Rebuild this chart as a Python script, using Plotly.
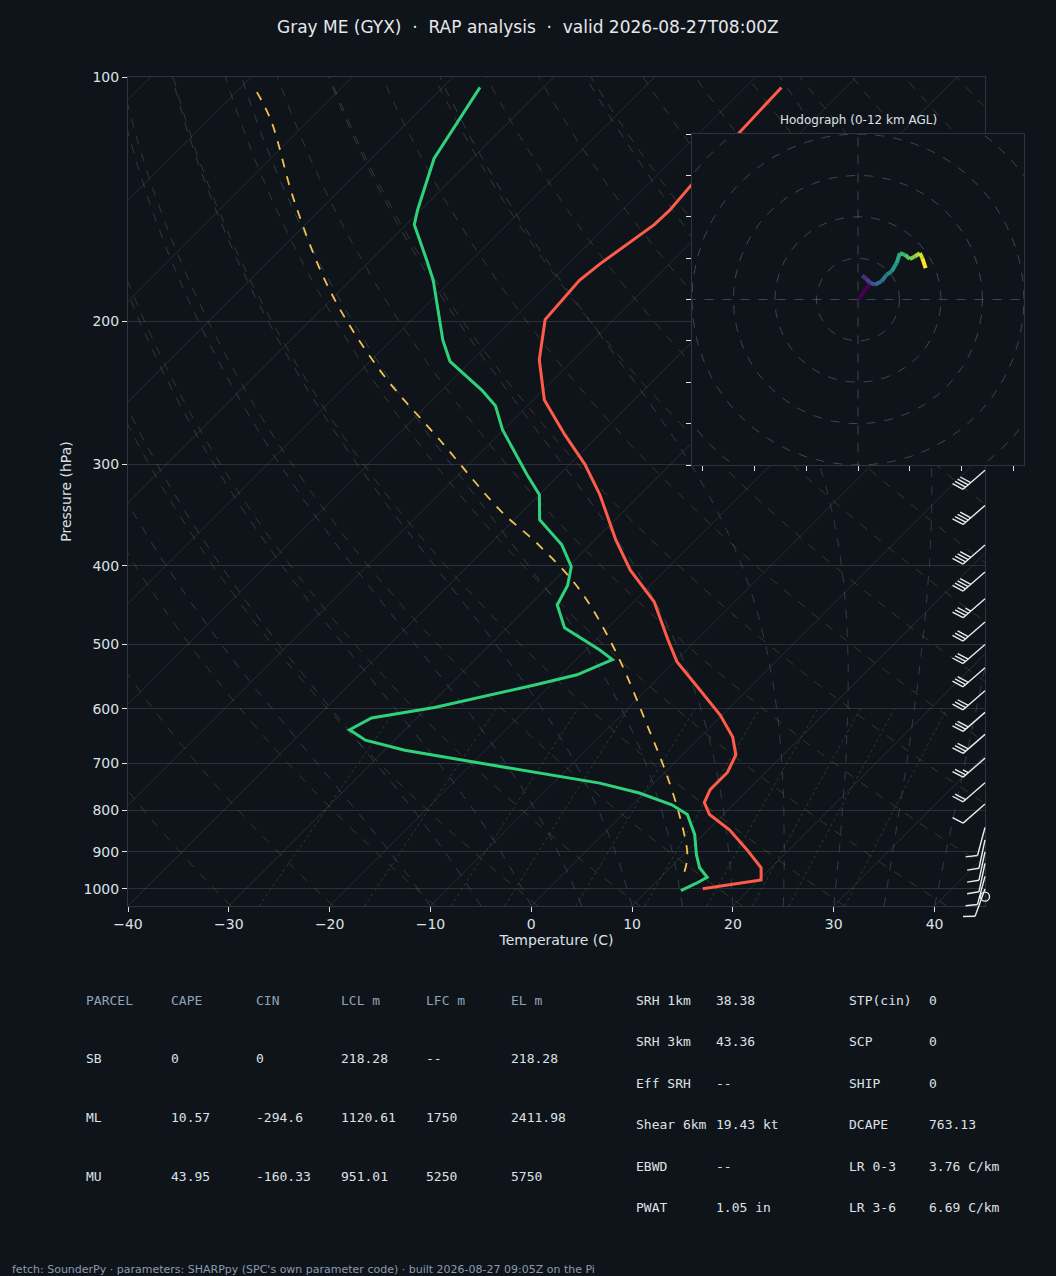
import numpy as np
import plotly.graph_objects as go

# ---------------- data ----------------
t_p = [1000, 975, 942, 895, 846, 810, 783, 755, 719, 684, 650, 611, 569, 525, 493, 443, 405, 372,
       327, 300, 276, 250, 223, 199, 178, 170, 152, 146, 132, 103]
t_c = [15.3, 20.2, 19.0, 15.8, 12.1, 8.6, 6.9, 6.2, 6.2, 5.3, 3.2, -0.2, -4.7, -9.8, -12.9, -18.0,
       -23.5, -27.9, -34.0, -38.5, -43.4, -48.9, -53.4, -56.8, -57.3, -56.9, -55.4, -55.3, -55.8, -56.4]
td_p = [1005, 985, 968, 942, 908, 857, 810, 788, 762, 741, 700, 675, 656, 637, 616, 598, 561, 545,
        522, 508, 477, 447, 423, 401, 377, 351, 327, 309, 272, 254, 243, 224, 211, 188, 178, 169,
        152, 146, 126, 103]
td_c = [13.3, 14.1, 14.6, 12.9, 11.3, 9.1, 6.4, 3.9, -0.5, -5.4, -19.3, -28.0, -32.9, -35.5, -34.5,
        -29.3, -21.6, -18.4, -16.4, -18.6, -24.3, -27.3, -28.2, -29.7, -32.8, -37.5, -40.0, -43.2,
        -50.1, -53.2, -56.1, -62.1, -64.9, -69.6, -71.8, -74.2, -79.2, -80.3, -83.8, -86.3]
parcel_p = [953, 908, 810, 713, 637, 508, 428, 377, 342, 280, 230, 183, 142, 113, 103]
parcel_c = [11.8, 10.4, 5.6, -0.3, -5.8, -17.1, -26.6, -35.1, -42.3, -55.3, -68.1, -81.1, -93.5, -103.8, -108.7]

barb_p = [305, 337, 377, 407, 439, 469, 500, 534, 570, 606, 645, 690, 740, 786, 840, 870, 900, 930, 965, 1000]
barb_spd = [40, 40, 40, 40, 35, 30, 30, 30, 30, 30, 30, 25, 20, 10, 10, 10, 10, 10, 10, 10]
barb_dir = [229, 229, 229, 229, 229, 229, 229, 229, 229, 229, 229, 229, 229, 229, 195, 192, 192, 192, 195, 200]
calm_p = [1022]

hodo_u = [0.2, 2.9, 1.0, 2.0, 3.0, 4.1, 5.7, 6.9, 8.1, 9.3, 10.1, 11.3, 12.5, 13.7, 14.9, 15.5, 16.3]
hodo_v = [0.0, 4.0, 5.8, 5.0, 4.0, 3.6, 4.4, 6.0, 6.8, 8.8, 11.2, 10.8, 9.8, 10.4, 11.2, 10.0, 7.6]

x_ticks = [-40, -30, -20, -10, 0, 10, 20, 30, 40]
p_ticks = [100, 200, 300, 400, 500, 600, 700, 800, 900, 1000]

parcel_hdr = ["PARCEL", "CAPE", "CIN", "LCL m", "LFC m", "EL m"]
parcel_rows = [["SB", "0", "0", "218.28", "--", "218.28"],
               ["ML", "10.57", "-294.6", "1120.61", "1750", "2411.98"],
               ["MU", "43.95", "-160.33", "951.01", "5250", "5750"]]
idx1_lab = ["SRH 1km", "SRH 3km", "Eff SRH", "Shear 6km", "EBWD", "PWAT"]
idx1_val = ["38.38", "43.36", "--", "19.43 kt", "--", "1.05 in"]
idx2_lab = ["STP(cin)", "SCP", "SHIP", "DCAPE", "LR 0-3", "LR 3-6"]
idx2_val = ["0", "0", "0", "763.13", "3.76 C/km", "6.69 C/km"]

# ---------------- geometry ----------------
W, H = 1056, 1276
PX0, PX1, PY0, PY1 = 128, 985, 77, 906
K = (812.0) / ((PX1 - PX0) / 85.0)
LP0 = np.log10(1050)

def skx(T, p):
    return np.asarray(T, float) + K * (LP0 - np.log10(np.asarray(p, float)))

def ypix(p):
    return PY0 + 812.0 * (np.log10(p) - 2.0)

BG = "#0f141a"
FRAME = "#2b3441"
TXT = "#dde1e6"
fig = go.Figure()

# ---------------- background lines ----------------
pp = np.logspace(np.log10(1050), 2, 120)
for T0 in range(-120, 60, 10):
    fig.add_trace(go.Scatter(x=skx(np.full_like(pp, T0), pp), y=pp, mode="lines",
                             line=dict(color="rgba(120,135,150,0.22)", width=1), hoverinfo="skip",
                             showlegend=False))
for th in range(240, 480, 10):
    T = th * (pp / 1000.0) ** 0.2857 - 273.15
    fig.add_trace(go.Scatter(x=skx(T, pp), y=pp, mode="lines",
                             line=dict(color="rgba(150,110,60,0.35)", width=1, dash="dash"),
                             hoverinfo="skip", showlegend=False))

def es(Tc):
    return 6.112 * np.exp(17.67 * Tc / (Tc + 243.5))

for T0 in range(-10, 45, 5):
    ps = np.linspace(1050, 100, 400)
    T = T0 + 273.15
    out = []
    for i, p in enumerate(ps):
        out.append(T - 273.15)
        if i < len(ps) - 1:
            dp = ps[i + 1] - p
            rs = 0.622 * es(T - 273.15) / (p - es(T - 273.15))
            dTdp = (287.0 * T + 2.5e6 * rs) / (p * (1005.0 + 2.5e6 ** 2 * rs * 0.622 / (287.0 * T * T)))
            T = T + dTdp * dp
    fig.add_trace(go.Scatter(x=skx(out, ps), y=ps, mode="lines",
                             line=dict(color="rgba(70,110,130,0.45)", width=1, dash="dash"),
                             hoverinfo="skip", showlegend=False))

pm = np.linspace(1050, 600, 40)
for w in [0.4, 1, 2, 3, 5, 8, 12, 16, 20, 28]:
    e = (w / 1000.0) * pm / (0.622 + w / 1000.0)
    ln = np.log(e / 6.112)
    Td = 243.5 * ln / (17.67 - ln)
    fig.add_trace(go.Scatter(x=skx(Td, pm), y=pm, mode="lines",
                             line=dict(color="rgba(70,120,90,0.40)", width=1, dash="dot"),
                             hoverinfo="skip", showlegend=False))

# ---------------- profiles ----------------
fig.add_trace(go.Scatter(x=skx(parcel_c, parcel_p), y=parcel_p, mode="lines", line_shape="spline",
                         line=dict(color="#f2c14e", width=1.8, dash="dash"), showlegend=False))
fig.add_trace(go.Scatter(x=skx(t_c, t_p), y=t_p, mode="lines",
                         line=dict(color="#ff5b4a", width=3), showlegend=False))
fig.add_trace(go.Scatter(x=skx(td_c, td_p), y=td_p, mode="lines",
                         line=dict(color="#2fd27a", width=3), showlegend=False))

# ---------------- hodograph ----------------
from plotly.colors import sample_colorscale
n = len(hodo_u) - 1
cols = sample_colorscale("Viridis", [i / (n - 1) for i in range(n)])
ang = np.linspace(0, 2 * np.pi, 200)
for r in [10, 20, 30, 40, 50]:
    fig.add_trace(go.Scatter(x=r * np.cos(ang), y=r * np.sin(ang), xaxis="x2", yaxis="y2", mode="lines",
                             line=dict(color="rgba(120,130,145,0.45)", width=1, dash="dash"),
                             hoverinfo="skip", showlegend=False))
fig.add_trace(go.Scatter(x=[-50, 50, None, 0, 0], y=[0, 0, None, -50, 50], xaxis="x2", yaxis="y2",
                         mode="lines", line=dict(color="rgba(120,130,145,0.45)", width=1, dash="dash"),
                         hoverinfo="skip", showlegend=False))
for i in range(n):
    fig.add_trace(go.Scatter(x=hodo_u[i:i + 2], y=hodo_v[i:i + 2], xaxis="x2", yaxis="y2", mode="lines",
                             line=dict(color=cols[i], width=4), hoverinfo="skip", showlegend=False))

# ---------------- wind barbs (pixel overlay) ----------------
bx, by = [], []
for p, s, d in zip(barb_p, barb_spd, barb_dir):
    x0, y0 = 985.0, float(ypix(p))
    dx, dy = np.sin(np.radians(d)), -np.cos(np.radians(d))
    L = 29.0
    xt, yt = x0 + dx * L, y0 + dy * L
    bx += [x0, xt, None]; by += [y0, yt, None]
    px_, py_ = -dy, dx
    bvx, bvy = px_ * 0.9 + dx * 0.35, py_ * 0.9 + dy * 0.35
    nrm = np.hypot(bvx, bvy); bvx /= nrm; bvy /= nrm
    full, half = int(s // 10), int((s % 10) >= 5)
    pos = 0.0
    for k in range(full):
        sx, sy = xt - dx * pos, yt - dy * pos
        bx += [sx, sx + bvx * 12, None]; by += [sy, sy + bvy * 12, None]
        pos += 3.4
    if half:
        sx, sy = xt - dx * pos, yt - dy * pos
        bx += [sx, sx + bvx * 6, None]; by += [sy, sy + bvy * 6, None]
fig.add_trace(go.Scatter(x=bx, y=by, xaxis="x3", yaxis="y3", mode="lines",
                         line=dict(color="#e8ecf0", width=1.4), hoverinfo="skip", showlegend=False))
fig.add_trace(go.Scatter(x=[985] * len(calm_p), y=[float(ypix(p)) for p in calm_p], xaxis="x3", yaxis="y3",
                         mode="markers", marker=dict(symbol="circle-open", size=9, color="#e8ecf0",
                                                     line=dict(color="#e8ecf0", width=1.4)),
                         hoverinfo="skip", showlegend=False))

# ---------------- layout ----------------
def px(x): return x / W
def py(y): return 1 - y / H

tick_txt = [("−" + str(-v)) if v < 0 else str(v) for v in x_ticks]
fig.update_layout(
    width=W, height=H, margin=dict(l=0, r=0, t=0, b=0, autoexpand=False),
    paper_bgcolor=BG, plot_bgcolor="rgba(0,0,0,0)",
    font=dict(family="DejaVu Sans", color=TXT, size=14),
    xaxis=dict(domain=[px(PX0), px(PX1)], range=[-40, 45], tickvals=x_ticks, ticktext=tick_txt,
               showgrid=False, zeroline=False, showline=True, linecolor=FRAME, mirror=True, automargin=False,
               ticks="outside", ticklen=5, tickcolor=TXT, tickfont=dict(size=14),
               title=dict(text="Temperature (C)", font=dict(size=14), standoff=4)),
    yaxis=dict(domain=[py(PY1), py(PY0)], type="log", range=[LP0, 2], tickvals=p_ticks, automargin=False,
               ticktext=[str(v) for v in p_ticks], showgrid=True, gridcolor="rgba(120,135,150,0.25)",
               zeroline=False, showline=True, linecolor=FRAME, mirror=True, ticks="outside",
               ticklen=5, tickcolor=TXT, tickfont=dict(size=14),
               title=dict(text="Pressure (hPa)", font=dict(size=14), standoff=8)),
    xaxis2=dict(domain=[px(692), px(1024)], range=[-40, 40], anchor="y2", automargin=False,
                tickvals=[-37.5, -25, -12.5, 0, 12.5, 25, 37.5], showticklabels=False,
                ticks="outside", ticklen=5, tickcolor=TXT, showgrid=False, zeroline=False,
                showline=True, linecolor=FRAME, mirror=True),
    yaxis2=dict(domain=[py(465), py(134)], range=[-40, 40], anchor="x2", automargin=False,
                tickvals=list(range(-40, 41, 10)), showticklabels=False, ticks="outside", ticklen=5,
                tickcolor=TXT, showgrid=False, zeroline=False, showline=True, linecolor=FRAME, mirror=True),
    xaxis3=dict(domain=[0, 1], range=[0, W], visible=False, anchor="y3", fixedrange=True, automargin=False),
    yaxis3=dict(domain=[0, 1], range=[H, 0], visible=False, anchor="x3", fixedrange=True, automargin=False),
    shapes=[dict(type="rect", xref="x2", yref="y2", x0=-40, x1=40, y0=-40, y1=40, layer="below",
                 fillcolor=BG, line=dict(width=0))],
)

ann = []
def T(x, y, s, size=13, color=TXT, fam="DejaVu Sans Mono", anchor="left"):
    ann.append(dict(x=px(x), y=py(y), xref="paper", yref="paper", text=s, showarrow=False,
                    xanchor=anchor, yanchor="middle", font=dict(family=fam, size=size, color=color)))

T(528, 27, "Gray ME (GYX)  ·  RAP analysis  ·  valid 2026-08-27T08:00Z", 17, "#e6e8eb", "DejaVu Sans", "center")
T(858, 120, "Hodograph (0-12 km AGL)", 12, TXT, "DejaVu Sans", "center")
cx = [84, 169, 254, 339, 424, 509]
for c, h in zip(cx, parcel_hdr):
    T(c, 1000, h, 13, "#8fa3b8")
for r, row in enumerate(parcel_rows):
    for c, v in zip(cx, row):
        T(c, 1058 + r * 59, v)
for i in range(6):
    yy = 1000 + i * 41.5
    T(634, yy, idx1_lab[i]); T(714, yy, idx1_val[i])
    T(847, yy, idx2_lab[i]); T(927, yy, idx2_val[i])
T(10, 1269, "fetch: SounderPy · parameters: SHARPpy (SPC's own parameter code) · built 2026-08-27 09:05Z on the Pi",
  11, "#8a9bb0", "DejaVu Sans")
fig.update_layout(annotations=ann)

fig.write_html("out.html", config={"displayModeBar": False})
with open("out.html", "r", encoding="utf-8") as f:
    html = f.read()
html = html.replace("<head>", "<head><style>html,body{margin:0;padding:0;overflow:hidden;background:#0f141a}</style>", 1)
with open("out.html", "w", encoding="utf-8") as f:
    f.write(html)
